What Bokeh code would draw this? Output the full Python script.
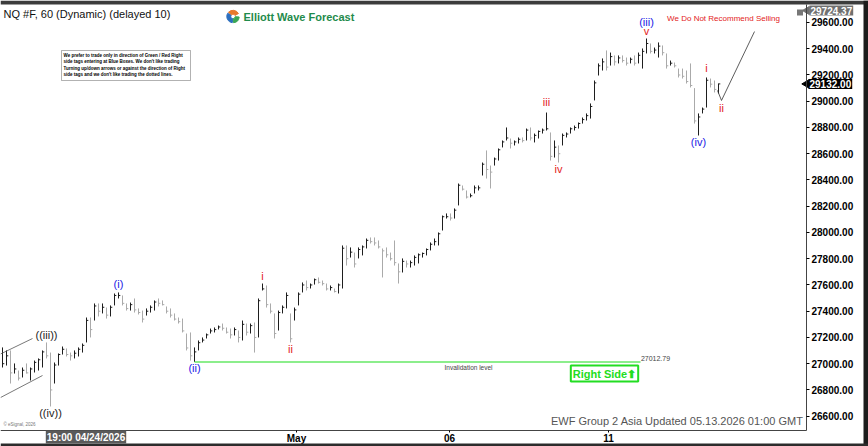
import math
from bokeh.plotting import figure
from bokeh.models import Range1d, FixedTicker, NumeralTickFormatter, Label, BoxAnnotation, ColumnDataSource
from bokeh.embed import file_html
from bokeh.resources import INLINE

# ---------------- data ----------------
high = [27124, 27101,
        27101, 27002, 26948, 26971, 27002, 26971, 27024, 27040, 27101, 27162,
        27085, 27009, 27078, 27131, 27116, 27085, 27101, 27124, 27154, 27352,
        27352, 27459, 27459, 27459, 27428, 27444, 27535, 27543, 27520, 27459,
        27466, 27497, 27421, 27405, 27421, 27444, 27482, 27497, 27482, 27436,
        27421, 27383, 27352, 27344, 27230, 27238, 27124, 27177, 27200, 27230,
        27268, 27276, 27291, 27306, 27276, 27268, 27276, 27253, 27329, 27306,
        27306, 27314, 27497, 27611, 27596, 27459, 27383, 27405, 27444, 27543,
        27383, 27428, 27543, 27619, 27634, 27611, 27649, 27657, 27634, 27611,
        27596, 27573, 27611, 27901, 27901, 27886, 27847, 27886, 27901, 27954,
        27962, 27962, 27939, 27878, 27886, 27847, 27939, 27764, 27802, 27786,
        27786, 27825, 27840, 27847, 27878, 27924, 27954, 28000, 28129, 28145,
        28145, 28183, 28373, 28358, 28320, 28297, 28358, 28358, 28533, 28625,
        28510, 28571, 28640, 28701, 28800, 28716, 28701, 28724, 28724, 28792,
        28800, 28754, 28777, 28792, 28914, 28762, 28701, 28663, 28754, 28762,
        28800, 28815, 28838, 28876, 28907, 28983, 29158, 29288, 29326, 29387,
        29371, 29349, 29349, 29349, 29333, 29333, 29349, 29371, 29402, 29478,
        29440, 29409, 29448, 29425, 29364, 29310, 29295, 29249, 29249, 29234,
        29288, 29100, 28907, 28952, 29181, 29173, 29158, 29135]

low = [26971, 26986,
       26849, 26925, 26872, 26895, 26925, 26872, 26933, 26948, 26971, 27040,
       26674, 26849, 26986, 27070, 27055, 27024, 27040, 27055, 27085, 27162,
       27200, 27329, 27360, 27383, 27344, 27360, 27444, 27497, 27444, 27405,
       27405, 27390, 27375, 27314, 27367, 27390, 27405, 27436, 27444, 27383,
       27352, 27329, 27306, 27238, 27101, 27024, 27013, 27101, 27162, 27192,
       27230, 27238, 27261, 27253, 27230, 27192, 27215, 27162, 27177, 27215,
       27230, 27085, 27200, 27558, 27428, 27383, 27192, 27253, 27383, 27421,
       27162, 27329, 27444, 27543, 27558, 27573, 27603, 27611, 27596, 27558,
       27558, 27543, 27535, 27573, 27748, 27809, 27733, 27802, 27825, 27878,
       27916, 27901, 27878, 27657, 27809, 27786, 27748, 27611, 27695, 27733,
       27733, 27748, 27764, 27809, 27825, 27863, 27901, 27901, 28015, 28106,
       28091, 28106, 28206, 28320, 28259, 28267, 28297, 28320, 28434, 28411,
       28335, 28510, 28548, 28648, 28701, 28640, 28663, 28678, 28686, 28701,
       28701, 28686, 28716, 28754, 28777, 28548, 28571, 28533, 28663, 28724,
       28754, 28777, 28792, 28830, 28853, 28868, 29006, 29196, 29234, 29234,
       29272, 29272, 29288, 29295, 29272, 29288, 29272, 29288, 29249, 29364,
       29364, 29364, 29333, 29349, 29249, 29272, 29257, 29181, 29173, 29135,
       29105, 28830, 28739, 28907, 28952, 29105, 29067, 29059]

close = [27000, 27060,
         26930, 26960, 26890, 26950, 26930, 26960, 27010, 27030, 27090, 27060,
         26800, 26990, 27070, 27110, 27070, 27060, 27080, 27110, 27140, 27330,
         27260, 27440, 27400, 27430, 27370, 27430, 27520, 27520, 27460, 27420,
         27450, 27410, 27390, 27340, 27400, 27430, 27470, 27460, 27450, 27400,
         27370, 27340, 27320, 27250, 27120, 27060, 27090, 27160, 27180, 27220,
         27250, 27260, 27280, 27270, 27240, 27220, 27260, 27200, 27300, 27240,
         27290, 27200, 27480, 27570, 27450, 27400, 27230, 27390, 27430, 27520,
         27190, 27410, 27530, 27600, 27580, 27600, 27640, 27620, 27610, 27570,
         27580, 27550, 27600, 27880, 27800, 27850, 27760, 27870, 27890, 27940,
         27930, 27920, 27890, 27860, 27830, 27800, 27770, 27700, 27780, 27760,
         27770, 27810, 27830, 27840, 27870, 27910, 27930, 27990, 28120, 28120,
         28110, 28170, 28360, 28330, 28270, 28280, 28340, 28340, 28520, 28480,
         28460, 28560, 28630, 28690, 28720, 28680, 28690, 28710, 28700, 28780,
         28720, 28740, 28770, 28780, 28790, 28580, 28650, 28600, 28740, 28750,
         28790, 28800, 28830, 28860, 28890, 28960, 29140, 29270, 29300, 29260,
         29340, 29300, 29330, 29310, 29290, 29320, 29290, 29350, 29380, 29440,
         29380, 29390, 29420, 29370, 29270, 29290, 29270, 29200, 29190, 29150,
         29120, 28850, 28880, 28940, 29160, 29130, 29090, 29132]

price_ticks = [26600, 26800, 27000, 27200, 27400, 27600, 27800, 28000,
               28200, 28400, 28600, 28800, 29000, 29200, 29400, 29600]
date_tick_pos = [73.5, 111.75, 151.5]
date_tick_labels = ["May", "06", "11"]

invalidation_level = 27012.79
inval_x = [48, 159.5]
proj_x = [178.75, 179.75, 188.0]
proj_y = [29082, 29006, 29531]
wedge_upper_x = [-0.5, 7.5]
wedge_upper_y = [27074, 27192]
wedge_lower_x = [-0.5, 10.0]
wedge_lower_y = [26742, 26910]

last_price = 29132.00
top_price = 29724.37

# wave labels: text, bar index, side, colour, gap in px
RED, BLUE, DARK = "#e31b1b", "#1a1ae6", "#222222"
wave_labels = [
    ("((iii))", 11, "high", DARK, 1),
    ("((iv))", 12, "low", DARK, 1),
    ("(i)", 29, "high", BLUE, 2),
    ("(ii)", 48, "low", BLUE, 0),
    ("i", 65, "high", RED, 2),
    ("ii", 72, "low", RED, 1),
    ("iii", 136, "high", RED, 5),
    ("iv", 139, "low", RED, 0),
    ("v", 161, "high", RED, 2),
    ("(iii)", 161, "high", BLUE, 11),
    ("(iv)", 174, "low", BLUE, 1),
    ("i", 176, "high", RED, 3),
]

# ---------------- layout helpers (reference pixel -> data) ----------------
PX = 7.62            # price units per pixel


def X(refx):
    return (refx - 2) / 4.0


def Y(refy):
    return 29767.6 - PX * refy


FONT = "Liberation Sans"
W, H = 868, 446

p = figure(width=W, height=H, x_range=Range1d(X(0), X(W)), y_range=Range1d(Y(H), Y(0)),
           y_axis_location="right", output_backend="svg", toolbar_location=None, min_border=0)
p.grid.visible = False
p.outline_line_color = None
p.background_fill_color = "white"
p.border_fill_color = "white"

# axes (drawn at fixed places inside the canvas)
xa = p.xaxis[0]
xa.fixed_location = Y(430)
xa.bounds = (X(0), X(806))
xa.ticker = FixedTicker(ticks=date_tick_pos)
xa.major_label_overrides = {k: v for k, v in zip(date_tick_pos, date_tick_labels)}
xa.minor_tick_line_color = None
xa.major_tick_in = 0
xa.major_tick_out = 2
xa.major_label_standoff = 0
xa.major_label_text_font = FONT
xa.major_label_text_font_style = "bold"
xa.major_label_text_font_size = "10px"
xa.major_label_text_color = "black"
xa.axis_line_color = "#444444"

ya = p.yaxis[0]
ya.fixed_location = X(806)
ya.bounds = (Y(430), Y(4))
ya.ticker = FixedTicker(ticks=price_ticks)
ya.formatter = NumeralTickFormatter(format="0.00")
ya.minor_tick_line_color = None
ya.major_tick_in = 0
ya.major_tick_out = 3
ya.major_label_standoff = 2
ya.major_label_text_font = FONT
ya.major_label_text_font_style = "bold"
ya.major_label_text_font_size = "10px"
ya.major_label_text_color = "black"
ya.axis_line_color = "#444444"

# window frame bands
for l, r, t, b, c in [(0, W, 0, 4, "#3c3c3c"), (863, W, 0, H, "#1c1c1c"), (0, W, 443, H, "#2c2c2c")]:
    p.add_layout(BoxAnnotation(left=X(l), right=X(r), top=Y(t), bottom=Y(b), fill_color=c,
                               fill_alpha=1, line_color=None))
p.add_layout(BoxAnnotation(left=X(796.5), right=X(802.5), top=Y(9), bottom=Y(15), fill_color="#777777",
                           fill_alpha=1, line_color=None))

# bars
bar_index = list(range(len(close)))
colors = ["#1e1e1e" if i == 0 or close[i] >= close[i - 1] else "#aaaaaa" for i in bar_index]
src = ColumnDataSource(dict(x=bar_index, high=high, low=low, close=close,
                            xr=[i + 0.45 for i in bar_index], color=colors))
p.segment(x0="x", y0="low", x1="x", y1="high", color="color", line_width=1, source=src)
p.segment(x0="x", y0="close", x1="xr", y1="close", color="color", line_width=1, source=src)

# invalidation line, wedge, projection
p.line(inval_x, [invalidation_level, invalidation_level], color="#66e866", line_width=1.3)
p.line(wedge_upper_x, wedge_upper_y, color="#555555", line_width=0.8)
p.line(wedge_lower_x, wedge_lower_y, color="#555555", line_width=0.8)
p.line(proj_x, proj_y, color="#333333", line_width=0.8)

# wave labels
for txt, idx, side, col, gap in wave_labels:
    if side == "high":
        yy, base = high[idx] + gap * PX, "bottom"
    else:
        yy, base = low[idx] - gap * PX, "top"
    p.add_layout(Label(x=idx, y=yy, text=txt, text_align="center", text_baseline=base,
                       text_color=col, text_font=FONT, text_font_size="11px"))
p.add_layout(Label(x=proj_x[1], y=proj_y[1] - 2 * PX, text="ii", text_align="center",
                   text_baseline="top", text_color=RED, text_font=FONT, text_font_size="11px"))

# texts
p.add_layout(Label(x=X(3), y=Y(13), text="NQ #F, 60 (Dynamic) (delayed 10)", text_align="left",
                   text_baseline="middle", text_font=FONT, text_font_size="11px", text_color="#111111"))
for a0, a1, col in [(0.5, 2.4, "#e87a2c"), (2.6, 4.6, "#2d6fbf"), (4.8, 6.2, "#3aa655")]:
    p.annular_wedge(x=X(232.5), y=Y(16), inner_radius=2.2, outer_radius=6.2, start_angle=a0,
                    end_angle=a1, color=col, inner_radius_units="screen", outer_radius_units="screen")
p.add_layout(Label(x=X(243), y=Y(16), text="Elliott Wave Forecast", text_align="left",
                   text_baseline="middle", text_font=FONT, text_font_style="bold",
                   text_font_size="11px", text_color="#1f8b4c"))
p.add_layout(Label(x=X(723), y=Y(18), text="We Do Not Recommend Selling", text_align="center",
                   text_baseline="middle", text_font=FONT, text_font_size="8px", text_color=RED))

note_lines = ["We prefer to trade only in direction of Green / Red Right",
              "side tags entering at Blue Boxes. We don't like trading",
              "Turning up/down arrows or against the direction of Right",
              "side tags and we don't like trading the dotted lines."]
p.add_layout(BoxAnnotation(left=X(61), right=X(190), top=Y(50), bottom=Y(80),
                           fill_color="white", fill_alpha=1, line_color="black", line_width=1))
for k, ln in enumerate(note_lines):
    p.add_layout(Label(x=X(63), y=Y(54.5 + 6.5 * k), text=ln, text_align="left",
                       text_baseline="middle", text_font=FONT, text_font_style="bold",
                       text_font_size="4.5px", text_color="black"))

p.add_layout(Label(x=X(655), y=Y(358), text="27012.79", text_align="center", text_baseline="middle",
                   text_font=FONT, text_font_size="7px", text_color="#444444"))
p.add_layout(Label(x=X(468), y=Y(367), text="Invalidation level", text_align="center",
                   text_baseline="middle", text_font=FONT, text_font_size="6.5px", text_color="#444444"))
p.add_layout(Label(x=X(604), y=Y(373), text="Right Side\u2b06", text_align="center",
                   text_baseline="middle", text_font=FONT, text_font_style="bold",
                   text_font_size="11px", text_color="#22dd22", border_line_color="#22dd22",
                   border_line_width=2, background_fill_color="white", padding=2))
p.add_layout(Label(x=X(803), y=Y(420), text="EWF Group 2 Asia Updated 05.13.2026 01:00 GMT",
                   text_align="right", text_baseline="middle", text_font=FONT,
                   text_font_size="11px", text_color="#555555"))
p.add_layout(Label(x=X(3), y=Y(424), text="\u00a9 eSignal, 2026", text_align="left",
                   text_baseline="middle", text_font=FONT, text_font_size="4.5px", text_color="#777777"))

# value boxes on the axes (with a left-pointing notch)
p.scatter(x=[X(806.5)], y=[last_price], marker="triangle", angle=math.pi / 2, size=9,
          color="black")
p.scatter(x=[X(806.5)], y=[Y(10)], marker="triangle", angle=math.pi / 2, size=8,
          color="#707070")
p.add_layout(Label(x=X(808), y=last_price, text="%.2f" % last_price, text_align="left",
                   text_baseline="middle", text_font=FONT, text_font_style="bold",
                   text_font_size="10px", text_color="white", background_fill_color="black",
                   padding=1))
p.add_layout(Label(x=X(809), y=Y(10), text="%.2f" % top_price, text_align="left",
                   text_baseline="middle", text_font=FONT, text_font_style="bold",
                   text_font_size="10px", text_color="white", background_fill_color="#707070",
                   padding=1))
p.add_layout(Label(x=X(85.5), y=Y(436.5), text="19:00 04/24/2026", text_align="center",
                   text_baseline="middle", text_font=FONT, text_font_style="bold",
                   text_font_size="10px", text_color="white", background_fill_color="#5a5a5a",
                   padding=1))

open("out.html", "w").write(file_html(p, INLINE))
